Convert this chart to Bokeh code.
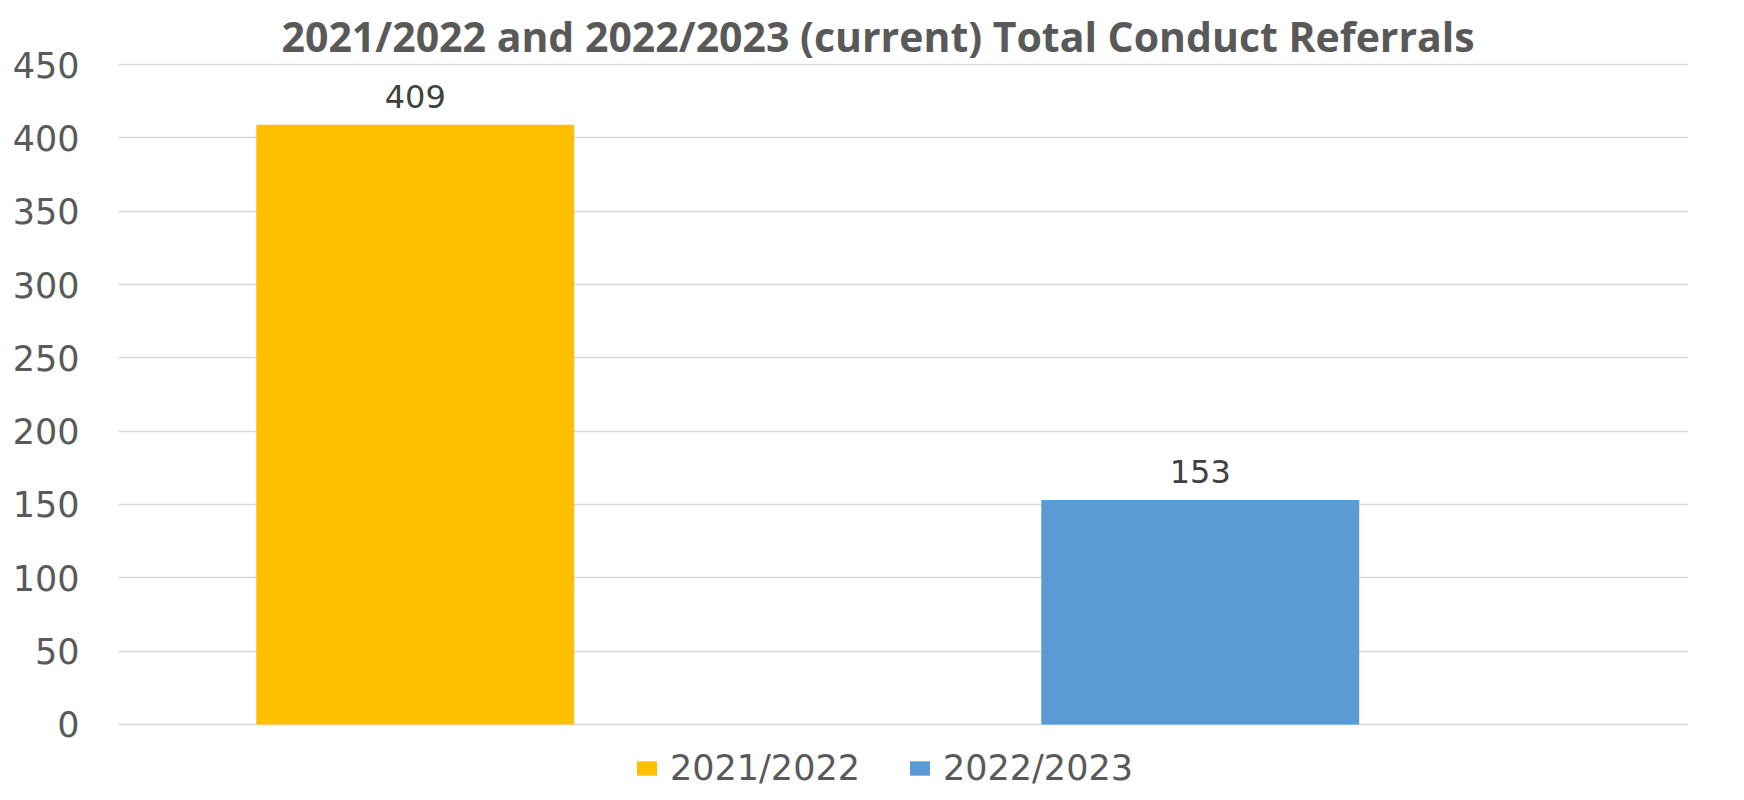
from bokeh.plotting import figure
from bokeh.models import ColumnDataSource, Range1d, FixedTicker, Legend, LegendItem, LabelSet
from bokeh.core.properties import value
from bokeh.embed import file_html
from bokeh.resources import INLINE

# Data
categories = ["2021/2022", "2022/2023"]
values = [409, 153]
colors = ["#FFC000", "#5B9BD5"]
y_ticks = [0, 50, 100, 150, 200, 250, 300, 350, 400, 450]
title_text = "2021/2022 and 2022/2023 (current) Total Conduct Referrals"

xs = list(range(len(categories)))
source = ColumnDataSource(dict(x=xs, top=values, color=colors, cat=categories,
                               label=[str(v) for v in values]))

p = figure(width=1736, height=792, output_backend="svg", toolbar_location=None,
           x_range=Range1d(-0.378, 1.622), y_range=Range1d(-46.4, 450.7),
           min_border_left=118, min_border_right=48, min_border_top=63, min_border_bottom=0)
p.background_fill_color = "white"
p.border_fill_color = "white"
p.outline_line_color = None

p.title.text = title_text
p.title.text_font = "Open Sans"
p.title.text_font_style = "bold"
p.title.text_font_size = "41px"
p.title.text_color = "#595959"
p.title.align = "left"
p.title.offset = 163
p.title.standoff = -1

r = p.vbar(x="x", top="top", width=0.405, bottom=0, color="color", source=source, line_color=None)

labels = LabelSet(x="x", y="top", text="label", source=source, text_align="center",
                  text_baseline="alphabetic", y_offset=17, text_font=value("DejaVu Sans"),
                  text_font_size="32px", text_color="#404040")
p.add_layout(labels)

p.xaxis.visible = False
p.xgrid.visible = False
p.yaxis.ticker = FixedTicker(ticks=y_ticks)
p.yaxis.axis_line_color = None
p.yaxis.major_tick_line_color = None
p.yaxis.minor_tick_line_color = None
p.yaxis.major_tick_out = 0
p.yaxis.major_tick_in = 0
p.yaxis.major_label_standoff = 39
p.yaxis.major_label_text_font = "DejaVu Sans"
p.yaxis.major_label_text_font_size = "35px"
p.yaxis.major_label_text_color = "#595959"
p.ygrid.ticker = FixedTicker(ticks=y_ticks)
p.ygrid.grid_line_color = "#d9d9d9"
p.ygrid.grid_line_width = 1.5

items = [LegendItem(label=c, renderers=[r], index=i) for i, c in enumerate(categories)]
legend = Legend(items=items, orientation="horizontal", location=(516, 4),
                glyph_width=25, glyph_height=18, label_standoff=11, spacing=7,
                label_width=230, padding=0, margin=0, border_line_color=None,
                background_fill_color=None, background_fill_alpha=0,
                label_text_font="DejaVu Sans", label_text_font_size="35px",
                label_text_color="#595959")
p.add_layout(legend, "center")

open("out.html", "w").write(file_html(p, INLINE))
